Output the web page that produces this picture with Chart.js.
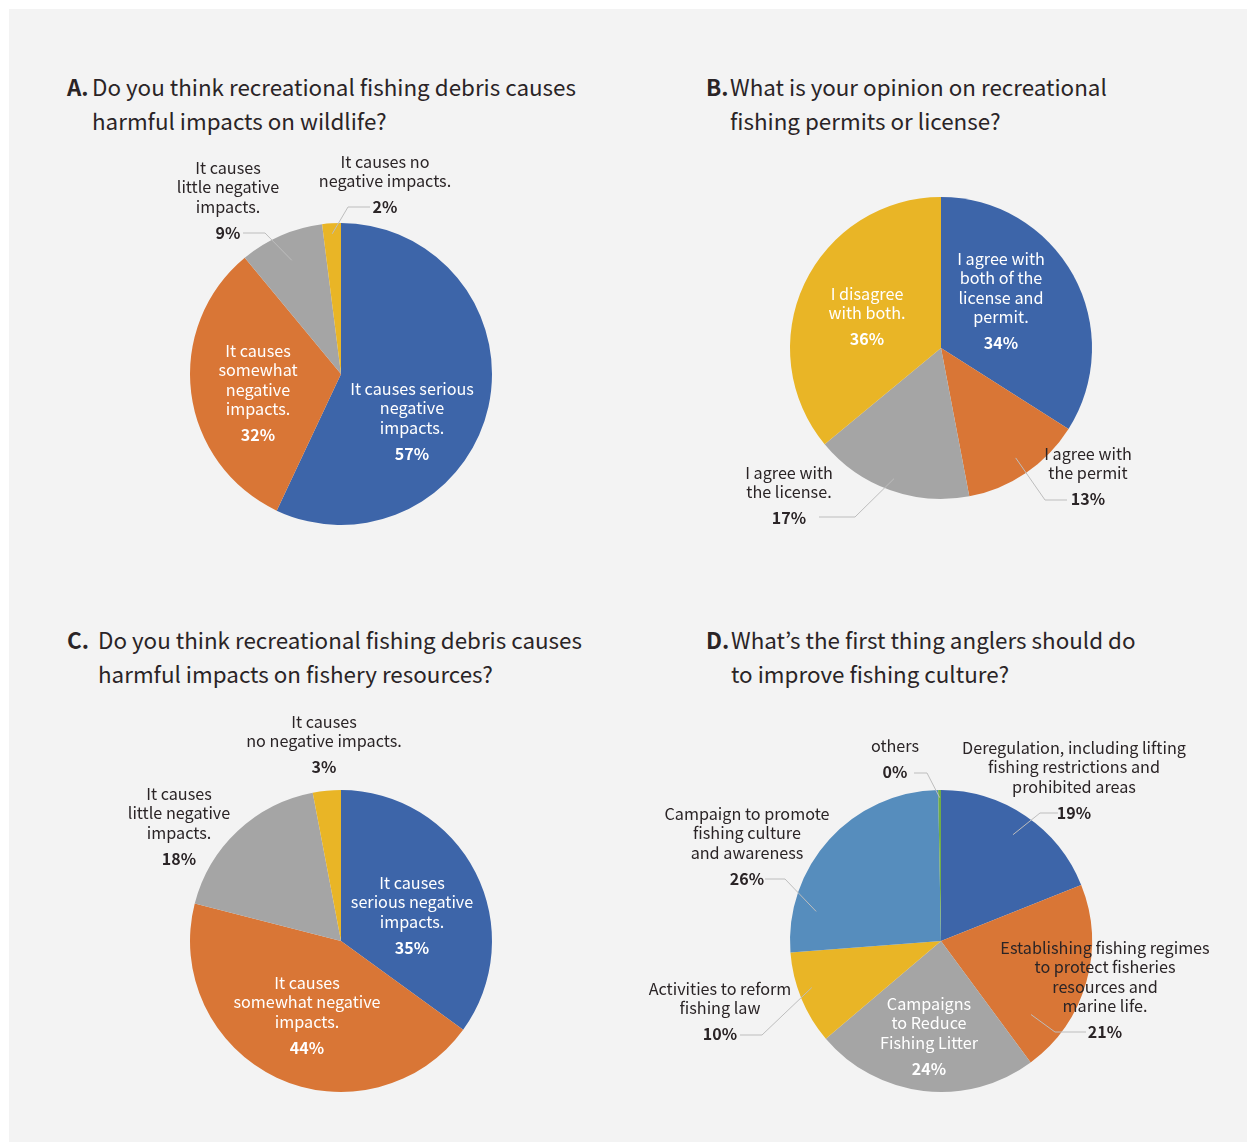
<!DOCTYPE html>
<html>
<head>
<meta charset="utf-8">
<script src="https://cdn.jsdelivr.net/npm/chart.js@4.4.1/dist/chart.umd.min.js"></script>
<style>
html,body{margin:0;padding:0;background:#fff;width:1247px;height:1142px;overflow:hidden;}
#page{position:absolute;left:9px;top:9px;width:1238px;height:1133px;background:#f3f3f3;}
.t{position:absolute;font-family:"Noto Sans CJK JP","Noto Sans",sans-serif;font-size:22.4px;font-weight:400;line-height:34px;color:#2a2426;white-space:nowrap;}
.t b{position:absolute;top:0;font-weight:bold;}
canvas{position:absolute;}
</style>
</head>
<body>
<div id="page"></div>

<div class="t" style="left:92px;top:69px"><b style="left:-25px">A.</b>Do you think recreational fishing debris causes<br>harmful impacts on wildlife?</div>
<div class="t" style="left:730px;top:69px"><b style="left:-24px">B.</b>What is your opinion on recreational<br>fishing permits or license?</div>
<div class="t" style="left:98px;top:622px"><b style="left:-31px">C.</b>Do you think recreational fishing debris causes<br>harmful impacts on fishery resources?</div>
<div class="t" style="left:731px;top:622px"><b style="left:-25px">D.</b>What’s the first thing anglers should do<br>to improve fishing culture?</div>

<canvas id="cA"></canvas>
<canvas id="cB"></canvas>
<canvas id="cC"></canvas>
<canvas id="cD"></canvas>

<script>
'use strict';

/* ── data ── */
const catsA=[['It causes serious','negative','impacts.'],['It causes','somewhat','negative','impacts.'],['It causes','little negative','impacts.'],['It causes no','negative impacts.']];
const valsA=[57,32,9,2];

const catsB=[['I agree with','both of the','license and','permit.'],['I agree with','the permit'],['I agree with','the license.'],['I disagree','with both.']];
const valsB=[34,13,17,36];

const catsC=[['It causes','serious negative','impacts.'],['It causes','somewhat negative','impacts.'],['It causes','little negative','impacts.'],['It causes','no negative impacts.']];
const valsC=[35,44,18,3];

const catsD=[['Deregulation, including lifting','fishing restrictions and','prohibited areas'],['Establishing fishing regimes','to protect fisheries','resources and','marine life.'],['Campaigns','to Reduce','Fishing Litter'],['Activities to reform','fishing law'],['Campaign to promote','fishing culture','and awareness'],['others']];
const valsD=[19,21,24,10,26,0.3];

/* ── style ── */
const BLUE='#3d65a9',ORANGE='#d97636',GRAY='#a5a5a5',YELLOW='#e9b526',LBLUE='#568dbd',GREEN='#6fac46';
const W='#ffffff',K='#2a2426';
const FONT='"Noto Sans CJK JP","Noto Sans",sans-serif';
const LH=19.3,PGAP=26;

/* ── label plugin: text blocks + leader lines ── */
const sliceLabels={
  id:'sliceLabels',
  afterDatasetsDraw(chart,args,opts){
    const ctx=chart.ctx;
    const meta=chart.getDatasetMeta(0);
    const vals=chart.data.datasets[0].data;
    ctx.save();
    meta.data.forEach((arc,i)=>{
      const p=opts.place[i];if(!p)return;
      const cx=arc.x,cy=arc.y,R=arc.outerRadius;
      if(p.lead){
        const at=p.lead.at==null?.5:p.lead.at;
        const a=arc.startAngle+(arc.endAngle-arc.startAngle)*at;
        ctx.beginPath();
        ctx.strokeStyle='#bdbdbd';ctx.lineWidth=1;
        ctx.moveTo(cx+Math.cos(a)*R*p.lead.r,cy+Math.sin(a)*R*p.lead.r);
        p.lead.pts.forEach(q=>ctx.lineTo(cx+q[0],cy+q[1]));
        ctx.stroke();
      }
    });
    meta.data.forEach((arc,i)=>{
      const p=opts.place[i];if(!p)return;
      const cx=arc.x,cy=arc.y;
      const lines=chart.data.labels[i];
      ctx.fillStyle=p.c;
      ctx.textAlign='center';ctx.textBaseline='middle';
      ctx.font='16.2px '+FONT;
      lines.forEach((s,j)=>ctx.fillText(s,cx+p.x,cy+p.y+j*LH));
      ctx.font='bold 16px '+FONT;
      ctx.fillText(Math.round(vals[i])+'%',cx+p.x,cy+p.y+(lines.length-1)*LH+PGAP);
    });
    ctx.restore();
  }
};

function makePie(id,box,center,R,cats,vals,colors,place){
  const cv=document.getElementById(id);
  cv.width=box.w;cv.height=box.h;
  cv.style.left=box.x+'px';cv.style.top=box.y+'px';
  const lx=center[0]-box.x,ly=center[1]-box.y;
  new Chart(cv,{
    type:'pie',
    data:{labels:cats,datasets:[{data:vals,backgroundColor:colors,borderWidth:0}]},
    options:{
      responsive:false,animation:false,events:[],
      layout:{padding:{left:lx-R,top:ly-R,right:box.w-lx-R,bottom:box.h-ly-R}},
      plugins:{legend:{display:false},tooltip:{enabled:false},sliceLabels:{place}}
    },
    plugins:[sliceLabels]
  });
}

makePie('cA',{x:20,y:140,w:600,h:420},[341,374],151,catsA,valsA,[BLUE,ORANGE,GRAY,YELLOW],[
  {x:71,y:15,c:W},
  {x:-83,y:-23,c:W},
  {x:-113,y:-206,c:K,lead:{r:.82,pts:[[-76,-141],[-98,-141]]}},
  {x:44,y:-212,c:K,lead:{r:.93,pts:[[7,-167],[29,-167]]}}
]);

makePie('cB',{x:640,y:140,w:600,h:420},[941,348],151,catsB,valsB,[BLUE,ORANGE,GRAY,YELLOW],[
  {x:60,y:-89,c:W},
  {x:147,y:106,c:K,lead:{r:.88,pts:[[104,152],[126,152]]}},
  {x:-152,y:125,c:K,lead:{r:.92,pts:[[-86,169],[-122,169]]}},
  {x:-74,y:-54,c:W}
]);

makePie('cC',{x:20,y:700,w:600,h:420},[341,941],151,catsC,valsC,[BLUE,ORANGE,GRAY,YELLOW],[
  {x:71,y:-58,c:W},
  {x:-34,y:42,c:W},
  {x:-162,y:-147,c:K},
  {x:-17,y:-219,c:K}
]);

makePie('cD',{x:620,y:700,w:627,h:420},[941,941],151,catsD,valsD,[BLUE,ORANGE,GRAY,YELLOW,LBLUE,GREEN],[
  {x:133,y:-193,c:K,lead:{r:.85,pts:[[99,-128],[117,-128]]}},
  {x:164,y:7,c:K,lead:{r:.77,at:.81,pts:[[114,91],[145,91]]}},
  {x:-12,y:63,c:W},
  {x:-221,y:48,c:K,lead:{r:.91,at:.57,pts:[[-179,94],[-201,94]]}},
  {x:-194,y:-127,c:K,lead:{r:.85,at:.19,pts:[[-156,-62],[-176,-62]]}},
  {x:-46,y:-195,c:K,lead:{r:.95,pts:[[-14,-168],[-27,-168]]}}
]);
</script>
</body>
</html>
